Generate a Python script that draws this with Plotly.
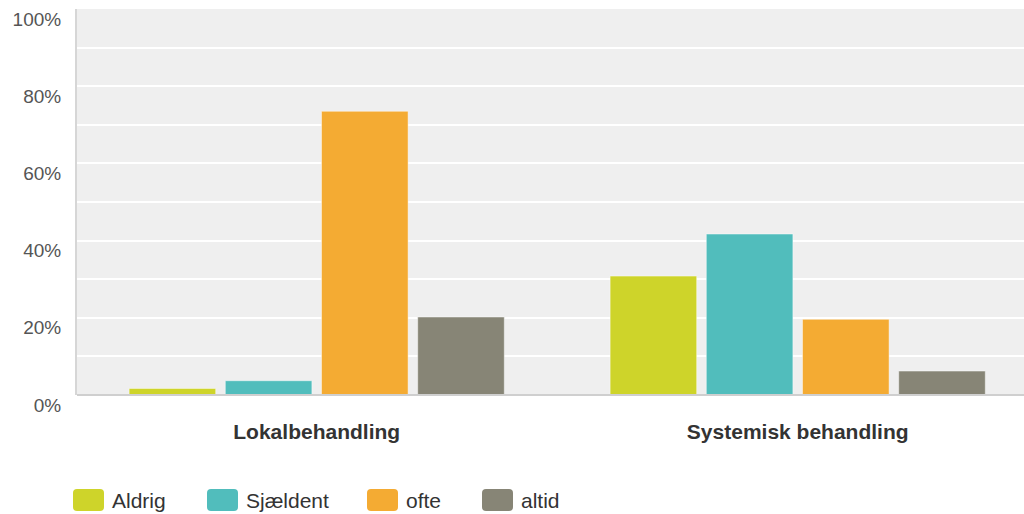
import plotly.graph_objects as go

# Survey answers: how often each treatment type is used (share of respondents)
categories = ["Lokalbehandling", "Systemisk behandling"]
series_names = ["Aldrig", "Sjældent", "ofte", "altid"]
aldrig = [0.017, 0.308]
sjaeldent = [0.037, 0.417]
ofte = [0.735, 0.196]
altid = [0.202, 0.062]
y_tick_values = [0, 0.2, 0.4, 0.6, 0.8, 1.0]
y_tick_labels = ["0%", "20%", "40%", "60%", "80%", "100%"]

colors = ["#CED42A", "#51BDBC", "#F4AB33", "#878576"]
series_values = [aldrig, sjaeldent, ofte, altid]

W, H = 1024, 514
M_L, M_T, M_B, M_R = 77, 9, 119, 0
PLOT_W = W - M_L - M_R
PLOT_H = H - M_T - M_B
FONT = "Liberation Sans, Arial, Helvetica, sans-serif"

fig = go.Figure()
for name, vals, col in zip(series_names, series_values, colors):
    fig.add_trace(go.Bar(
        x=categories, y=vals, name=name,
        marker=dict(color=col, line=dict(color="rgba(255,255,255,0.45)", width=1)),
        showlegend=False,
    ))

# one category spans 481 px; first group centred at x=316.7
cat_px = 481.0
x0 = -(316.7 - M_L) / cat_px
x1 = x0 + PLOT_W / cat_px

fig.update_layout(
    width=W, height=H,
    margin=dict(l=M_L, r=M_R, t=M_T, b=M_B, pad=0),
    paper_bgcolor="white",
    plot_bgcolor="#EFEFEF",
    barmode="group",
    bargap=0.2,
    bargroupgap=0.1,
    font=dict(family=FONT),
    xaxis=dict(
        range=[x0, x1],
        showgrid=False,
        showline=False,
        ticks="",
        tickfont=dict(family=FONT, size=21, color="#333333", weight="bold"),
        ticklabelstandoff=22,
        fixedrange=True,
    ),
    yaxis=dict(
        range=[0, 1],
        tickvals=y_tick_values,
        ticktext=y_tick_labels,
        tickfont=dict(family=FONT, size=19, color="#555555"),
        ticklabelposition="outside",
        ticklabelshift=10,
        ticklabelstandoff=10,
        showgrid=True,
        gridcolor="white",
        gridwidth=2,
        minor=dict(dtick=0.1, tick0=0, showgrid=True, gridcolor="white", gridwidth=2),
        showline=True,
        linecolor="#D6D6D6",
        linewidth=2,
        zeroline=False,
        fixedrange=True,
    ),
)

# baseline under the bars
fig.add_shape(type="line", xref="paper", yref="paper", x0=0, x1=1, y0=0, y1=0,
              line=dict(color="#CFCFCF", width=2), layer="above")

# legend row beneath the chart: rounded swatches and labels
def px_x(px):
    return (px - M_L) / PLOT_W

def px_y(py):
    return (H - M_B - py) / PLOT_H

swatch_left = [73, 207, 367, 482]
sw_w, sw_top, sw_bot, rad = 31, 489, 511, 4
for name, col, sx in zip(series_names, colors, swatch_left):
    xa, xb = px_x(sx), px_x(sx + sw_w)
    ya, yb = px_y(sw_top), px_y(sw_bot)
    rx = rad / PLOT_W
    ry = rad / PLOT_H
    path = (f"M {xa + rx},{ya} L {xb - rx},{ya} Q {xb},{ya} {xb},{ya - ry} "
            f"L {xb},{yb + ry} Q {xb},{yb} {xb - rx},{yb} L {xa + rx},{yb} "
            f"Q {xa},{yb} {xa},{yb + ry} L {xa},{ya - ry} Q {xa},{ya} {xa + rx},{ya} Z")
    fig.add_shape(type="path", xref="paper", yref="paper", path=path,
                  fillcolor=col, line=dict(width=0))
    fig.add_annotation(
        x=px_x(sx + sw_w + 6), y=px_y(500), xref="paper", yref="paper",
        text=name, showarrow=False, xanchor="left", yanchor="middle",
        font=dict(family=FONT, size=21, color="#333333"),
    )

fig.write_html("out.html")
